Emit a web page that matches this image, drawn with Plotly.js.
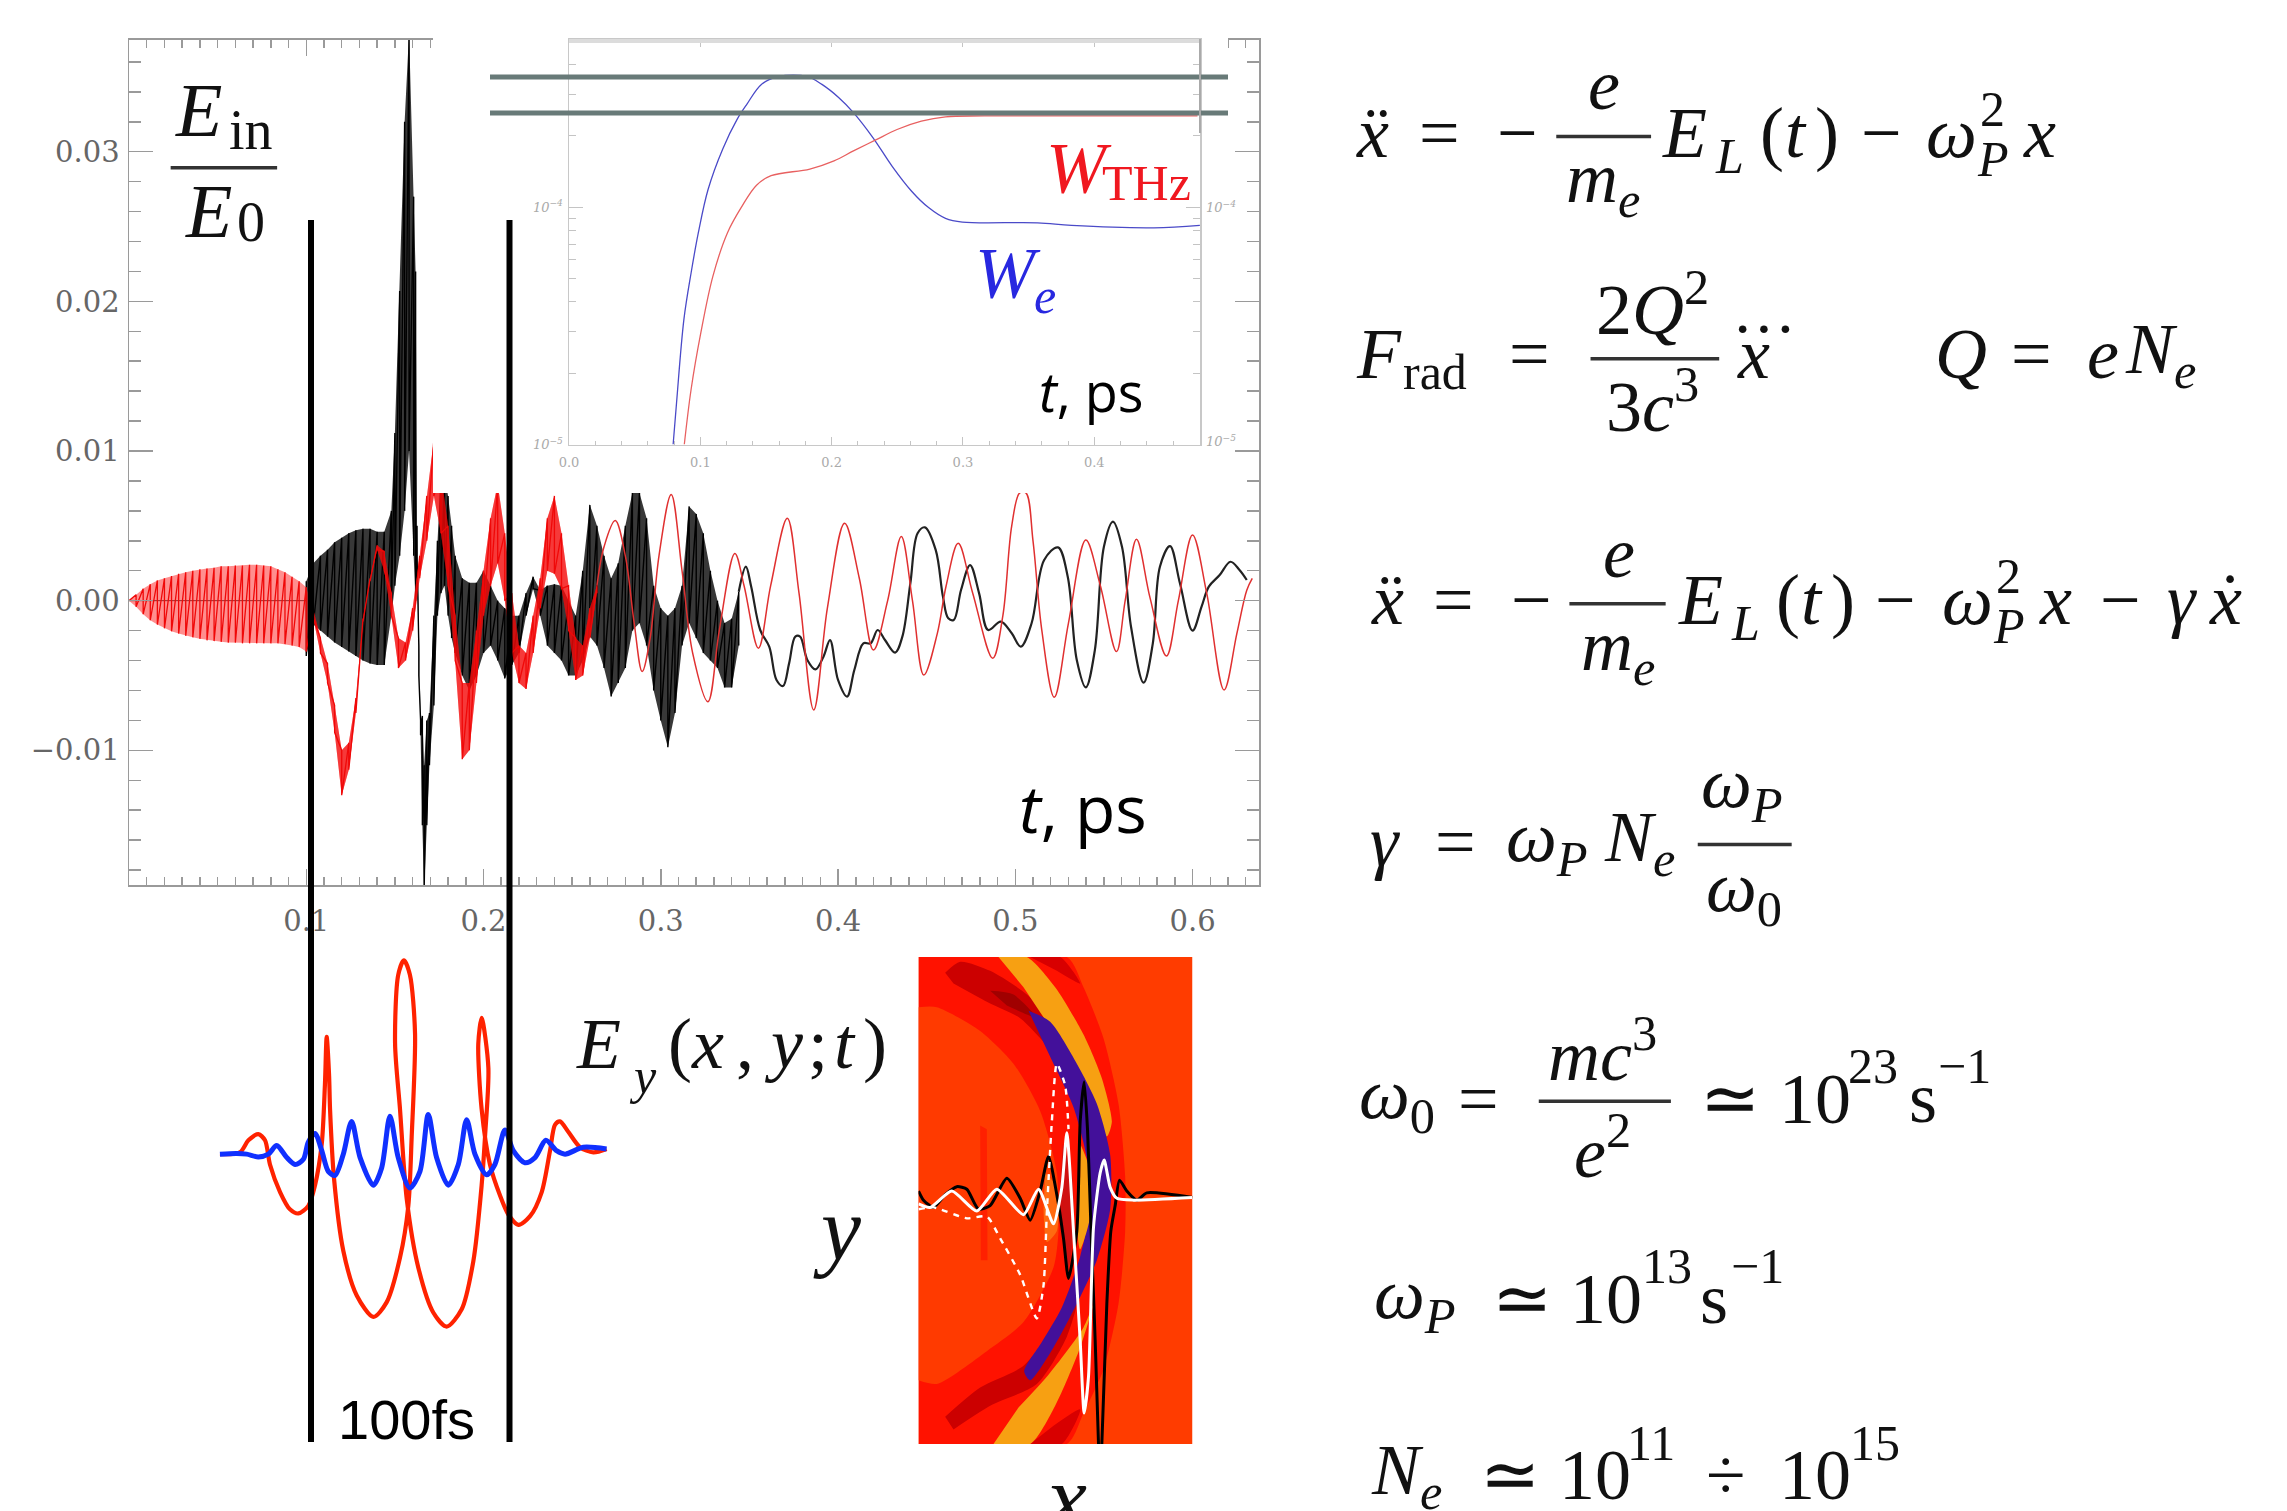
<!DOCTYPE html>
<html><head><meta charset="utf-8">
<script src="https://cdn.plot.ly/plotly-3.0.1.min.js"></script>
<style>html,body{margin:0;padding:0;background:#fff}</style></head>
<body><div id="chart" style="width:2287px;height:1511px"></div>
<script>
// ---------- Main panel: field in units of 1e-3, fast-oscillating part as upper/lower values
const yTickVals=[-10,0,10,20,30];
const yTickText=["\u22120.01","0.00","0.01","0.02","0.03"];
const xTickVals=[0.1,0.2,0.3,0.4,0.5,0.6];
const xTickText=["0.1","0.2","0.3","0.4","0.5","0.6"];

const tBlackIdle=[0,0.1];
const eBlackIdle=[0,0];
const tBlackFast=[.100,.104,.108,.112,.116,.120,.124,.128,.132,.136,.140,.144,.148,.150,.1527,.1555,.158,.1606,.1617,.1625,.1635,.1645,.1655,.1665,.168,.1695,.172,.174,.176,.178,.180,.182,.184,.188,.192,.196,.200,.204,.208,.212,.216,.220,.224,.228,.232,.236,.240,.244,.248,.252,.256,.260,.264,.268,.272,.276,.280,.284,.288,.292,.296,.300,.304,.308,.312,.316,.320,.324,.328,.332,.336,.340,.344];
const hiBlackFast=[1.3,2.5,3.0,3.4,3.9,4.2,4.5,4.7,4.8,4.8,4.6,4.6,6.0,11.2,20.7,32,38,27,22,5,-3,-8,-7.7,-11,-8,-7.5,-1,4,8.7,8.5,7,5,3,1.5,1.2,1.2,2,1,0,-.5,-1,-1,.5,1.6,.7,1,1.1,1,0,-1,2,6.4,5,3,1.5,2.5,5,7.2,7.2,5.5,1,-.5,-1,-.5,1,6.3,5.8,4.5,2,0,-1.5,-1.2,.6];
const loBlackFast=[-3.7,-1.6,-2,-2.4,-2.8,-3.1,-3.4,-3.7,-4,-4.2,-4.3,-4.3,-1,1,3,6,10,3,0,3,-5,-9,-15,-19.5,-15,-11,-7,-1,.5,1,-1,-2.5,-3.5,-5,-6,-5,-3.5,-3,-4,-5.2,-4.3,-3.5,-1,.8,-1,-3,-3.5,-4,-5,-5,-4,-2.4,-3,-4.5,-6.4,-5.5,-4.5,-2,-1.5,-3,-6,-8,-9.8,-7.5,-3,-1.5,-2.5,-3.5,-4,-4.5,-5.8,-5.8,-3];

const tBlackSmooth=[.344,.348,.351,.3561,.3612,.3653,.369,.3724,.3759,.3786,.3827,.3873,.3918,.3955,.4,.4051,.4092,.4143,.4184,.4224,.4265,.4322,.4363,.4408,.4449,.449,.4551,.4592,.4622,.4653,.4694,.4745,.4796,.4847,.4918,.498,.5031,.5092,.5163,.5241,.5296,.5347,.5398,.5449,.55,.5551,.5602,.5653,.5724,.5776,.5816,.5873,.5929,.6,.6051,.6092,.6153,.6214,.6265,.6306];
const eBlackSmooth=[.6,2.27,.94,-1.96,-3.07,-5.3,-5.7,-4.19,-2.4,-2.4,-3.96,-4.59,-3.74,-2.63,-5.3,-6.41,-4.63,-2.85,-2.85,-1.96,-2.63,-3.47,-2.4,1.16,4.5,4.9,3.39,.27,-1.18,-1.29,.71,2.38,.49,-1.96,-1.4,-2.18,-3.07,-1.51,2.72,3.56,1.6,-3.96,-5.79,-3.3,3.6,5.28,3.6,-1.74,-5.48,-2.85,2.27,3.65,1.16,-2,-.4,.94,1.71,2.6,2.05,1.38];

const tRedFast=[0,.004,.008,.012,.016,.020,.024,.028,.032,.036,.040,.044,.048,.052,.056,.060,.064,.068,.072,.076,.080,.084,.088,.092,.096,.100,.104,.108,.112,.116,.120,.124,.128,.132,.136,.140,.144,.148,.152,.156,.160,.164,.168,.172,.176,.180,.184,.188,.192,.196,.200,.204,.208,.212,.216,.220,.224,.228,.232,.236,.240,.244,.248,.252,.256,.260,.264];
const hiRedFast=[0,.4,.8,1.1,1.35,1.5,1.65,1.8,1.9,2,2.1,2.15,2.2,2.3,2.3,2.35,2.35,2.4,2.4,2.35,2.3,2.1,1.9,1.6,1.3,.9,-.6,-2.5,-4.2,-7,-10,-9.5,-6.5,-1.2,1.5,3.7,3.3,.5,-2.5,-2.8,-.5,3,7,10.8,8.5,5,-1,-5.5,-5.5,-2,2,5.5,7.8,4.5,.5,-3,-3.5,-1,1.5,5.5,7,4.5,1,-2.5,-3,-.5,1];
const loRedFast=[0,-.4,-.9,-1.3,-1.6,-1.85,-2.05,-2.2,-2.35,-2.45,-2.55,-2.65,-2.7,-2.75,-2.8,-2.8,-2.85,-2.85,-2.85,-2.85,-2.85,-2.85,-2.9,-3,-3.1,-3.4,-1.2,-3.5,-5.5,-8.8,-13,-11.3,-7.5,-1.4,1.3,3.4,2,-1,-4.5,-4,-2,1.5,4,7,4.5,1,-4,-10.6,-10,-5.5,-1,1,2.5,0,-3.5,-5.5,-5.9,-3.5,-.5,2,1.8,.8,-2,-5.3,-5,-2.5,.5];

const tRedSmooth=[.264,.268,.2743,.28,.285,.2895,.294,.299,.3059,.312,.318,.3266,.333,.3418,.347,.3551,.362,.3714,.378,.3863,.394,.4037,.412,.42,.428,.4357,.442,.4484,.456,.461,.4678,.476,.4873,.493,.498,.5025,.506,.51,.515,.522,.53,.5398,.548,.5571,.562,.5684,.576,.5853,.592,.6,.608,.6178,.625,.6306,.6337];
const eRedSmooth=[1,3.6,5.35,3,-1.5,-4.74,-2.5,3,7.1,2,-3.5,-6.75,-2,3.16,1,-3.18,1,5.5,.5,-7.3,-.5,5.17,1.5,-3.3,0,4.28,0,-4.97,-2.2,1,3.83,.5,-3.85,-1,5,7.2,7.2,4,-2,-6.46,-1.5,4.05,1,-3.4,0,4.1,.2,-3.7,0,4.39,.5,-5.97,-2.2,.7,1.49];

// ---------- Inset: energies versus time
const tWe=[.0793,.0819,.0875,.093,.0985,.1059,.117,.128,.1354,.1465,.1594,.1815,.1926,.2055,.2166,.2314,.2461,.2609,.2738,.2867,.2996,.3568,.3827,.4454,.4804];
const We=[1e-5,1.5e-5,3.37e-5,5.3e-5,7.82e-5,1.19e-4,1.76e-4,2.35e-4,2.72e-4,3.3e-4,3.56e-4,3.56e-4,3.3e-4,2.9e-4,2.51e-4,1.97e-4,1.49e-4,1.17e-4,9.98e-5,8.99e-5,8.67e-5,8.61e-5,8.39e-5,8.2e-5,8.39e-5];
const tWthz=[.0878,.093,.1004,.1096,.1207,.1317,.1428,.1539,.1834,.2018,.2166,.2332,.2498,.2683,.2867,.3162,.4786];
const Wthz=[1e-5,1.71e-5,2.96e-5,5.13e-5,7.82e-5,1.01e-4,1.24e-4,1.36e-4,1.45e-4,1.57e-4,1.73e-4,1.92e-4,2.13e-4,2.31e-4,2.41e-4,2.43e-4,2.43e-4];
const insetTickVals=[0,.1,.2,.3,.4];
const insetTickText=["0.0","0.1","0.2","0.3","0.4"];

// ---------- Pulse sketch, time in fs
const tPulseRed=[-46.4,-36.3,-32,-27,-23.6,-21.1,-16,-11,-6.7,-1.7,1.7,5.1,6.7,7.6,8.8,9.3,11.3,16,22.8,31.2,37.9,44.7,48.9,50.6,52.3,49.7,46.7,43.8,42.2,44.7,48.1,54,61.6,68.3,75.9,81.8,86,87.7,89.4,86,84.3,86,90.2,95.3,99.5,104.6,110.5,116.4,120.6,123.1,125.6,129.8,135.8,142.5,149.2];
const ePulseRed=[-.1,-.05,.3,.48,.3,-.4,-1.2,-1.7,-1.82,-1.6,-1,.2,1.9,3.3,2.2,1.2,-.8,-2.9,-4.2,-4.82,-4.4,-3.1,-1.6,.4,3.4,5.1,5.52,5.1,3.1,1.2,-1.4,-3.4,-4.7,-5.1,-4.6,-3.2,-1,.4,2.4,3.85,3.1,1.2,-.4,-1.3,-1.85,-2.15,-1.9,-1.2,0,.75,.85,.55,.1,-.05,.05];
const tPulseBlue=[-46.4,-37.9,-32.9,-27,-21.9,-17.7,-12.6,-8.4,-4.2,-1.7,1.7,5.1,8.4,11.8,16,20.2,24.5,31.2,35.4,39.6,43.8,49.7,54.8,59,63.2,69.1,74.2,78.4,82.6,88.5,92.7,97.8,102,107.9,113,118.5,123.9,128.2,137.4,149.2];
const ePulseBlue=[-.1,-.08,-.1,-.18,-.1,.15,-.2,-.4,-.25,.25,.5,0,-.6,-.72,-.1,.85,-.2,-1,-.5,1,-.2,-1.08,-.6,1.05,-.2,-1,-.4,.9,-.1,-.7,-.4,.6,0,-.35,-.2,.3,0,-.1,.1,.05];

// ---------- Field map E_y(x,y;t): filled levels (x, y grid units) and overlaid profiles
const redX=[115,560,610,670,715,735,735,715,670,610,560,115];
const redY=[47,47,130,270,450,650,800,1000,1180,1300,1385,1385];
const innerX=[115,170,300,400,480,530,535,520,430,320,170,115];
const innerY=[185,185,250,340,470,640,800,900,1050,1130,1220,1210];
const topSliverX=[450,540,600,530];
const topSliverY=[47,47,120,85];
const botSliverX=[450,545,600,520];
const botSliverY=[1385,1385,1290,1335];
const yelTopX=[355,440,525,610,665,695,680,640,590,510,430];
const yelTopY=[47,47,130,260,380,500,540,440,350,240,130];
const yelBotX=[340,450,525,600,640,610,505,415];
const yelBotY=[1385,1385,1280,1120,1000,1065,1195,1285];
const darkTopX=[195,240,330,440,560,640,590,500,420,330,220];
const darkTopY=[90,60,85,150,270,390,390,290,215,175,120];
const darkBotX=[195,300,430,540,600,560,470,330,220];
const darkBotY=[1310,1230,1170,1040,960,1090,1220,1280,1345];
const deepX=[330,400,470,440,380];
const deepY=[140,150,215,205,180];
const purpleX=[445,510,590,650,690,690,650,590,520,450,432,485,545,600,628,620,580,520];
const purpleY=[195,225,340,450,590,740,880,1000,1120,1210,1185,1105,1010,870,740,600,460,340];
const midRedX=[548,575,580,565,545,540];
const midRedY=[560,640,800,900,800,680];
const midYelX=[600,625,630,600,590,600];
const midYelY=[560,620,760,850,780,650];
const midOrX=[495,530,530,500,490];
const midOrY=[640,680,800,830,740];
const streakX=[300,320,322,302];
const streakY=[510,520,880,880];
const profBlackX=[115,130,160,195,230,260,295,330,380,420,450,480,505,530,550,565,590,600,612,622,632,645,655];
const profBlackY=[690,715,735,700,678,685,740,730,655,710,770,690,595,700,820,930,800,500,390,520,780,1100,1385];
const profBlack2X=[665,680,692,705,718,740,770,800,937];
const profBlack2Y=[1385,1000,800,730,660,690,715,695,708];
const profWhiteX=[115,150,215,290,350,430,475,520,545,560,580,600,612,625,640,660,672,690,710,760,937];
const profWhiteY=[725,735,690,745,685,755,685,780,680,530,800,1100,1300,1200,790,640,605,680,710,715,708];
const profDashX=[115,160,260,320,360,420,470,490,500,515,530,555,565];
const profDashY=[740,735,765,760,820,920,1040,950,750,500,340,400,520];

// ---------- helpers for layout
const W=2287,H=1511,k=2287/1568;
const dx=(a,b)=>[a/W,b/W], dy=(a,b)=>[1-b/H,1-a/H];
const rev=a=>a.slice().reverse();
function comb(t,hi,lo){const x=[],y=[];t.forEach((v,i)=>{x.push(v,v);y.push(hi[i],lo[i]);});return {x,y};}
const L=(x,y,color,width,extra)=>Object.assign({x,y,mode:'lines',hoverinfo:'skip',showlegend:false,line:{color,width}},extra||{});
const band=(t,hi,lo,fc)=>({x:t.concat(rev(t)),y:hi.concat(rev(lo)),mode:'lines',fill:'toself',fillcolor:fc,line:{width:0},hoverinfo:'skip',showlegend:false});
const poly=(x,y,c,sp)=>({x,y,xaxis:'x4',yaxis:'y4',mode:'lines',fill:'toself',fillcolor:c,line:{width:0,color:c,shape:sp===false?'linear':'spline',smoothing:.7},hoverinfo:'skip',showlegend:false});
const on=(tr,a,b)=>Object.assign(tr,{xaxis:a,yaxis:b});
const prof=(x,y,c,w,d)=>({x,y,xaxis:'x4',yaxis:'y4',mode:'lines',line:{color:c,width:w,dash:d||'solid',shape:'spline',smoothing:.6},hoverinfo:'skip',showlegend:false});

const cb=comb(tBlackFast,hiBlackFast,loBlackFast), cr=comb(tRedFast,hiRedFast,loRedFast);
const data=[
 L(tBlackIdle,eBlackIdle,'#333',1),
 band(tBlackFast,hiBlackFast,loBlackFast,'rgba(0,0,0,.78)'),
 L(cb.x,cb.y,'#000',1.4),
 L(tBlackSmooth,eBlackSmooth,'#222',2.2,{line:{color:'#222',width:2.2,shape:'spline',smoothing:1}}),
 band(tRedFast,hiRedFast,loRedFast,'rgba(255,30,30,.5)'),
 band(tRedFast.slice(26),hiRedFast.slice(26),loRedFast.slice(26),'rgba(240,0,0,.6)'),
 L(cr.x,cr.y,'#f00808',1.3),
 L(tRedSmooth,eRedSmooth,'#e03030',1.5,{line:{color:'#e03030',width:1.5,shape:'spline',smoothing:1}}),
 // white paper of the pasted inset, over the main panel
 on({x:[0,1,1,0,0],y:[0,0,1,1,0],mode:'lines',fill:'toself',fillcolor:'#fff',line:{width:0},hoverinfo:'skip',showlegend:false},'x2','y2'),
 // inset
 on(L(tWe,We,'#4a4ac8',1.3,{line:{color:'#4a4ac8',width:1.3,shape:'spline',smoothing:1}}),'x3','y3'),
 on(L(tWthz,Wthz,'#e86060',1.3,{line:{color:'#e86060',width:1.3,shape:'spline',smoothing:1}}),'x3','y3'),
 // field map
 poly([115,937,937,115,115],[47,47,1385,1385,47],'#ff3c00',false),
 poly(redX,redY,'#ff1200'),
 poly(innerX,innerY,'#ff3a00'),
 poly(streakX,streakY,'#ff2000',false),
 poly(topSliverX,topSliverY,'#d80000'),
 poly(botSliverX,botSliverY,'#d80000'),
 poly(darkTopX,darkTopY,'#cc0000'),
 poly(darkBotX,darkBotY,'#cc0000'),
 poly(deepX,deepY,'#a00000'),
 poly(yelTopX,yelTopY,'#f7a012'),
 poly(yelBotX,yelBotY,'#f7a012'),
 poly(purpleX,purpleY,'#43109a'),
 poly(midOrX,midOrY,'#ff6a10'),
 poly(midRedX,midRedY,'#d01010'),
 poly(midYelX,midYelY,'#f7a012'),
 prof(profBlackX,profBlackY,'#000',3),
 prof(profBlack2X,profBlack2Y,'#000',3),
 prof(profWhiteX,profWhiteY,'#fff',3),
 prof(profDashX,profDashY,'#fff',2.4,'6px,6px'),
 // pulse sketch
 on(L(tPulseRed,ePulseRed,'#ff2200',4.2,{line:{color:'#ff2200',width:4.2,shape:'spline',smoothing:.8}}),'x5','y5'),
 on(L(tPulseBlue,ePulseBlue,'#1030ff',5,{line:{color:'#1030ff',width:5,shape:'spline',smoothing:.8}}),'x5','y5'),
];

const SERIF='"Liberation Serif",serif', TICK='"DejaVu Serif",serif', SANS='"Open Sans",sans-serif';
const ann=[];
function T(x,y,text,size,o){o=o||{};ann.push({xref:'paper',yref:'paper',x:x*k/W,y:1-y*k/H,text,showarrow:false,xanchor:o.a||'left',yanchor:'middle',borderpad:0,font:{family:o.f||SERIF,size:size||72,color:o.c||'#111'}});}
const R=(x,y,t,o)=>T(x,y-3.5,t,72,o);
const shapes=[];
function bar(x0,x1,y){shapes.push({type:'line',xref:'paper',yref:'paper',x0:x0*k/W,x1:x1*k/W,y0:1-y*k/H,y1:1-y*k/H,line:{color:'#333',width:3.5}});}
function thick(x0,y0,x1,y1,c,w){shapes.push({type:'line',xref:'paper',yref:'paper',x0:x0/W,x1:x1/W,y0:1-y0/H,y1:1-y1/H,line:{color:c,width:w}});}
thick(569,41,1200,41,'#dcdcdc',4);
thick(311,220,311,1442,'#000',6); thick(509.5,220,509.5,1442,'#000',6);
thick(490,77,1228,77,'#687a78',5); thick(490,113,1228,113,'#687a78',5);
thick(1200,39,1200,133,'#aaa',2);

const EMU='<i>m</i><sub><i>e</i></sub>';
function EL(x,y){R(x,y,'<i>E</i>');T(x+36,y+12,'<i>L</i>',50);R(x+67,y,'(');R(x+84,y,'<i>t</i>');R(x+105,y,')');}
function ddx(x,y){R(x,y,'<i>x</i>');R(x+6,y-1,'\u00a8');}
function omegaP2(x,y){R(x,y,'<i>\u03c9</i>');T(x+37,y-20,'2',50);T(x+35,y+14,'<i>P</i>',50);}
function TenPow(x,y,e,ex){R(x,y,'10');T(ex,y-26,e,50);}
// equation 1
ddx(929,94.7); R(972,94.7,'='); R(1026,94.7,'\u2212');
R(1100,62,'<i>e</i>',{a:'center'}); bar(1067,1132,93.6); R(1099,129,EMU,{a:'center'});
EL(1139,94.7); R(1275,94.7,'\u2212'); omegaP2(1320,94.7); R(1386,94.7,'<i>x</i>');
// equation 2
R(929,246,'<i>F</i>'); T(961,255,'rad',50); R(1034,246,'=');
R(1133,212.6,'2<i>Q</i><sup>2</sup>',{a:'center'}); bar(1090.5,1178.7,246); R(1133,279,'3<i>c</i><sup>3</sup>',{a:'center'});
R(1190,246,'<i>x</i>'); T(1187,225,'\u00b7\u00b7\u00b7',64);
R(1326,246,'<i>Q</i>'); R(1378,246,'='); R(1430,246,'<i>e</i>'); R(1456,246,'<i>N</i><sub><i>e</i></sub>');
// equation 3
ddx(939,415); R(982,415,'='); R(1035,415,'\u2212');
R(1110,382.6,'<i>e</i>',{a:'center'}); bar(1076,1142,414); R(1109,450,EMU,{a:'center'});
EL(1150,415); R(1285,415,'\u2212'); omegaP2(1331,415); R(1397,415,'<i>x</i>'); R(1439,415,'\u2212'); R(1485,415,'<i>\u03b3</i>'); R(1514,415,'<i>x</i>'); R(1520,414,'\u02d9');
// equation 4
R(938.5,581,'<i>\u03b3</i>'); R(983,581,'='); R(1032,581,'<i>\u03c9</i><sub><i>P</i></sub>'); R(1099,581,'<i>N</i><sub><i>e</i></sub>');
R(1194,544,'<i>\u03c9</i><sub><i>P</i></sub>',{a:'center'}); bar(1164,1228.4,579); R(1196,615,'<i>\u03c9</i><sub>0</sub>',{a:'center'});
// equation 5
R(931,757,'<i>\u03c9</i><sub>0</sub>'); R(999,757,'=');
R(1099,724,'<i>mc</i><sup>3</sup>',{a:'center'}); bar(1055,1145.6,755); R(1099,790.5,'<i>e</i><sup>2</sup>',{a:'center'});
R(1165,757,'\u2243'); TenPow(1219,757,'23',1266); T(1308,753,'s',72); T(1328,731,'\u22121',50);
// equation 6
R(941.5,894,'<i>\u03c9</i><sub><i>P</i></sub>'); R(1022,894,'\u2243'); TenPow(1076,894,'13',1125); T(1165,890.5,'s',72); T(1186,868,'\u22121',50);
// equation 7
R(939,1015,'<i>N</i><sub><i>e</i></sub>'); R(1014,1015,'\u2243'); TenPow(1068,1015,'11',1115); R(1169,1015,'\u00f7'); TenPow(1219,1015,'15',1268);
// plot labels
T(119,75.4,'<i>E</i>',76); T(156,89,'in',56); bar(117,190,115); T(126,145,'<i>E</i>',76); T(162,152,'0',56);
T(698,553,'<i>t</i>, ps',66,{f:SANS,c:'#000'});
T(712,268,'<i>t</i>, ps',54,{f:SANS,c:'#000'});
T(716.7,115,'<i>W</i>',72,{c:'#f01820'}); T(755,125.7,'THz',50,{c:'#f01820'});
T(668,187,'<i>W</i>',72,{c:'#2828e0'}); T(708,203,'<i>e</i>',50,{c:'#2828e0'});
R(394,719.5,'<i>E</i>'); T(430.7,738,'<i>y</i>',50); R(457,719.5,'('); R(473,719.5,'<i>x</i>'); R(504,719.5,','); R(523,719.5,'<i>y</i>'); R(553,719.5,';'); R(571,719.5,'<i>t</i>'); R(591,719.5,')');
T(557,843,'<i>y</i>',90);
T(716,1027,'<i>x</i>',90);
T(231,973,'100fs',56,{f:'"Liberation Sans",sans-serif',c:'#000'});
// right hand labels of the inset
ann.push({xref:'paper',yref:'paper',x:1204/W,y:1-207/H,text:'<i>10<sup>\u22124</sup></i>',showarrow:false,xanchor:'left',yanchor:'middle',font:{family:TICK,size:13,color:'#aaa'}});
ann.push({xref:'paper',yref:'paper',x:1204/W,y:1-441/H,text:'<i>10<sup>\u22125</sup></i>',showarrow:false,xanchor:'left',yanchor:'middle',font:{family:TICK,size:13,color:'#aaa'}});

const hidden={visible:false,fixedrange:true};
const axC='#9a9a9a';
const layout={
 width:W,height:H,margin:{l:0,r:0,t:0,b:0,pad:0},paper_bgcolor:'#fff',plot_bgcolor:'rgba(0,0,0,0)',showlegend:false,
 xaxis:{domain:dx(129,1259),range:[0,.6375],anchor:'y',tickmode:'array',tickvals:xTickVals,ticktext:xTickText,ticks:'inside',ticklen:16,tickwidth:1.5,tickcolor:axC,
  showline:true,linecolor:axC,linewidth:1.5,mirror:'allticks',showgrid:false,zeroline:false,tickfont:{family:TICK,size:29,color:'#666'},ticklabelstandoff:10,
  minor:{tickmode:'linear',tick0:0,dtick:.01,ticks:'inside',ticklen:8,tickwidth:1.5,tickcolor:axC,showgrid:false}},
 yaxis:{domain:dy(39.5,885),range:[-19,37.5],anchor:'x',tickmode:'array',tickvals:yTickVals,ticktext:yTickText,ticks:'inside',ticklen:24,tickwidth:1.5,tickcolor:axC,
  showline:true,linecolor:axC,linewidth:1.5,mirror:'allticks',showgrid:false,zeroline:false,tickfont:{family:TICK,size:29,color:'#666'},ticklabelstandoff:2,automargin:false,
  minor:{tickmode:'linear',tick0:0,dtick:2,ticks:'inside',ticklen:12,tickwidth:1.5,tickcolor:axC,showgrid:false}},
 xaxis2:Object.assign({domain:dx(433,1228),range:[0,1],anchor:'y2'},hidden),
 yaxis2:Object.assign({domain:dy(37,493),range:[0,1],anchor:'x2'},hidden),
 xaxis3:{domain:dx(569,1200),range:[0,.4805],anchor:'y3',tickmode:'array',tickvals:insetTickVals,ticktext:insetTickText,ticks:'inside',ticklen:8,tickwidth:1,tickcolor:'#c4c4c4',
  showline:true,linecolor:'#c8c8c8',linewidth:1.5,mirror:'allticks',showgrid:false,zeroline:false,tickfont:{family:TICK,size:13,color:'#aaa'},ticklabelstandoff:5,
  minor:{tickmode:'linear',tick0:0,dtick:.02,ticks:'inside',ticklen:4,tickwidth:1,tickcolor:'#c4c4c4',showgrid:false}},
 yaxis3:{domain:dy(39,444.5),type:'log',range:[-5,-3.29],anchor:'x3',tickmode:'array',tickvals:[1e-5,1e-4],ticktext:['<i>10<sup>\u22125</sup></i>','<i>10<sup>\u22124</sup></i>'],ticks:'inside',ticklen:14,tickwidth:1,tickcolor:'#c4c4c4',
  showline:true,linecolor:'#c8c8c8',linewidth:1.5,mirror:'allticks',showgrid:false,zeroline:false,tickfont:{family:TICK,size:13,color:'#aaa'},ticklabelstandoff:2,
  minor:{tickmode:'array',tickvals:[2e-5,3e-5,4e-5,5e-5,6e-5,7e-5,8e-5,9e-5,2e-4,3e-4,4e-4,5e-4],ticks:'inside',ticklen:7,tickwidth:1,tickcolor:'#c4c4c4',showgrid:false}},
 xaxis4:Object.assign({domain:dx(918.5,1192.5),range:[115,937],anchor:'y4'},hidden),
 yaxis4:Object.assign({domain:dy(957,1444),range:[1385,47],anchor:'x4'},hidden),
 xaxis5:Object.assign({domain:dx(200,620),range:[-56.5,156],anchor:'y5'},hidden),
 yaxis5:Object.assign({domain:dy(950,1340),range:[-5.49,5.82],anchor:'x5'},hidden),
 annotations:ann,shapes:shapes
};
Plotly.newPlot('chart',data,layout,{displayModeBar:false,staticPlot:true});
</script></body></html>
